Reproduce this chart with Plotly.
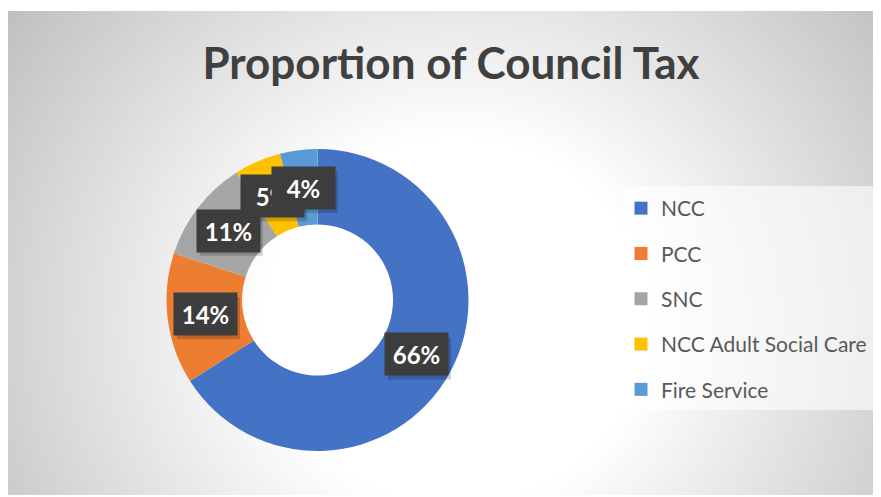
import numpy as np
import plotly.graph_objects as go

# ---- data ----
categories = ["NCC", "PCC", "SNC", "NCC Adult Social Care", "Fire Service"]
shares = [66, 14, 11, 5, 4]
colors = ["#4472C4", "#ED7D31", "#A5A5A5", "#FFC000", "#5B9BD5"]
title_text = "Proportion of Council Tax"

# page offset (browser body margin)
OX, OY = 8, 8
VW, VH = 881, 497
W, H = VW - OX, VH - OY

# plot area in page pixels: x 8..881, y 11..495
PX0, PX1, PY0, PY1 = 8, 881, 11, 495
ML, MR, MT, MB = PX0 - OX, VW - PX1, PY0 - OY, VH - PY1
PW, PH = PX1 - PX0, PY1 - PY0

# pie geometry (page pixels)
CX, CY, R = 317.5, 300.0, 151.0
LABEL_R = 113.0

def px_to_paper_x(x):
    return (x - PX0) / PW

def px_to_paper_y(y):
    return 1 - (y - PY0) / PH

fig = go.Figure()

# background radial gradient (decoration)
gx = np.linspace(PX0, PX1, 90)
gy = np.linspace(PY0, PY1, 55)
XX, YY = np.meshgrid(gx, gy)
dist = np.sqrt((XX - 455) ** 2 + ((YY - 320) * 1.05) ** 2)
shade = np.clip(255 - 0.175 * np.clip(dist - 190, 0, None), 190, 255)
fig.add_trace(go.Heatmap(x=gx, y=gy, z=shade, zmin=190, zmax=255,
                         colorscale=[[0, "rgb(190,190,190)"], [1, "rgb(255,255,255)"]],
                         zsmooth="best", showscale=False, hoverinfo="skip"))

# donut
fig.add_trace(go.Pie(
    labels=categories, values=shares, sort=False, direction="clockwise", rotation=0,
    hole=0.5, marker=dict(colors=colors, line=dict(width=0)), textinfo="none",
    showlegend=False,
    domain=dict(x=[px_to_paper_x(CX - R), px_to_paper_x(CX + R)],
                y=[px_to_paper_y(CY + R), px_to_paper_y(CY - R)]),
))

# legend entries
for i, (c, col) in enumerate(zip(categories, colors)):
    fig.add_trace(go.Scatter(x=[None], y=[None], mode="markers", name=c,
                             legendgroup=f"g{i}",
                             marker=dict(symbol="square", size=13, color=col)))

# data labels
BW, BH = 63, 42
total = float(sum(shares))
annotations = []
shapes = [dict(type="rect", xref="x", yref="y", x0=626, x1=PX1, y0=186, y1=410,
               fillcolor="rgba(255,255,255,0.6)", line=dict(width=0), layer="above")]
cum = 0.0
for v in shares:
    ang = 2 * np.pi * (cum + v / 2) / total
    cum += v
    x = CX + LABEL_R * np.sin(ang)
    y = CY - LABEL_R * np.cos(ang)
    shapes.append(dict(type="rect", xref="x", yref="y",
                       x0=x - BW / 2 + 3, x1=x + BW / 2 + 3, y0=y - BH / 2 + 4, y1=y + BH / 2 + 4,
                       fillcolor="rgba(0,0,0,0.18)", line=dict(width=0), layer="above"))
    annotations.append(dict(x=x, y=y, xref="x", yref="y",
                            text=f"<b>{round(100 * v / total)}%</b>", showarrow=False,
                            font=dict(family="Lato", size=24, color="white"),
                            bgcolor="#3d3d3d", width=BW, height=BH, borderpad=0))

fig.update_layout(
    width=W, height=H,
    margin=dict(l=ML, r=MR, t=MT, b=MB),
    paper_bgcolor="white", plot_bgcolor="white",
    title=dict(text=f"<b>{title_text}</b>", x=(451 - OX) / W, xanchor="center",
               y=1 - (64 - OY) / H, yanchor="middle",
               font=dict(family="Lato", size=44, color="#404040")),
    xaxis=dict(range=[PX0, PX1], visible=False, fixedrange=True),
    yaxis=dict(range=[PY1, PY0], visible=False, fixedrange=True),
    legend=dict(x=px_to_paper_x(621), y=px_to_paper_y(188), xanchor="left", yanchor="top",
                bgcolor="rgba(0,0,0,0)", font=dict(family="Lato", size=21, color="#595959"),
                tracegroupgap=15, itemwidth=30),
    shapes=shapes,
    annotations=annotations,
)

fig.write_html("out.html")
